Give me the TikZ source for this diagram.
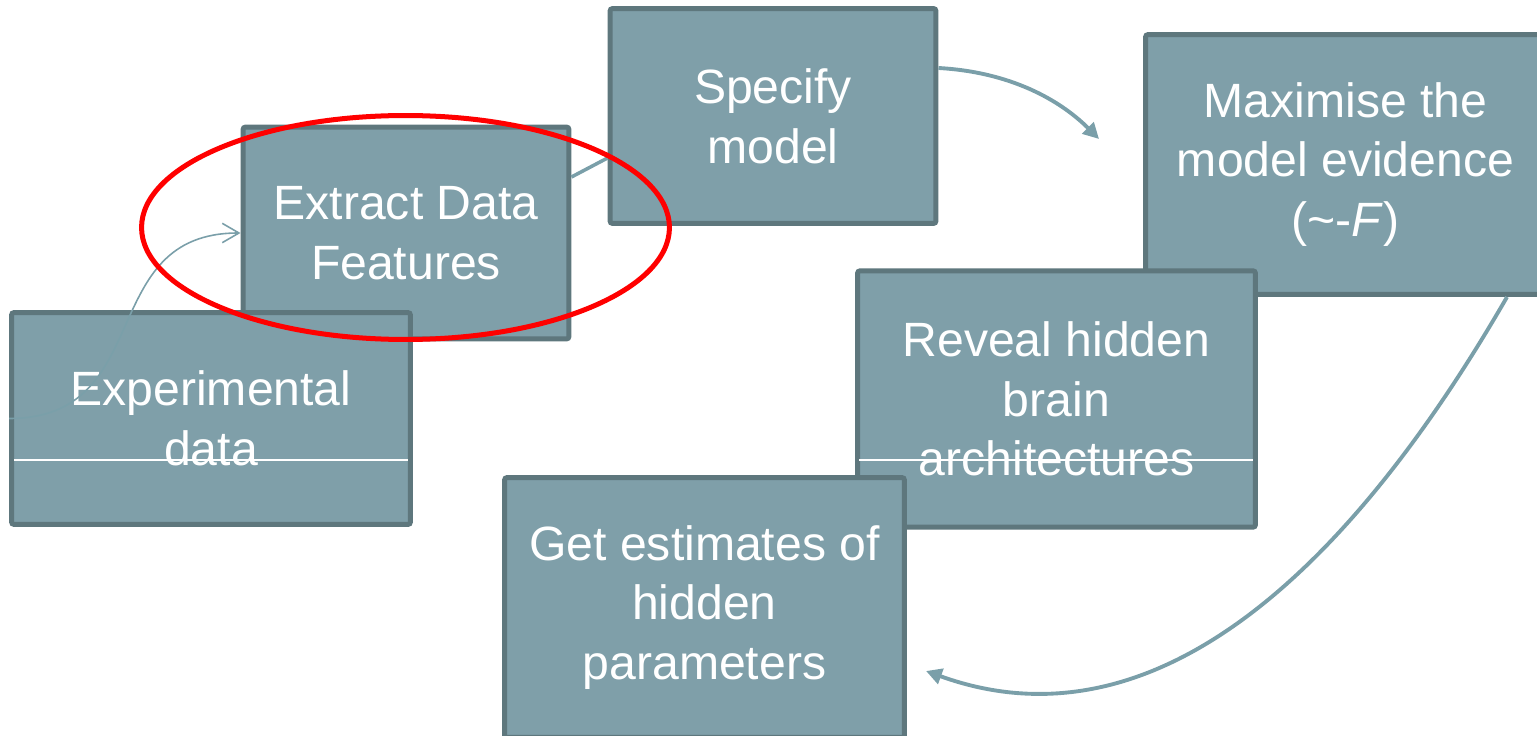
\documentclass[tikz,border=0pt]{standalone}
\usepackage{fontspec}
\setmainfont{Liberation Sans}
\usepackage{tikz}
\usetikzlibrary{arrows.meta,calc}
\definecolor{boxfill}{RGB}{127,159,169}
\definecolor{boxline}{RGB}{94,119,125}
\definecolor{flow}{RGB}{122,159,169}
\tikzstyle{stepbox}=[rectangle,fill=boxfill,draw=boxline,line width=2.85pt,rounded corners=1.5pt,text=white,align=center,inner sep=0pt,font=\fontsize{27.4}{34}\selectfont]
\tikzstyle{smallbox}=[stepbox,minimum width=6.52cm,minimum height=4.24cm]
\tikzstyle{bigbox}=[stepbox,minimum width=8cm,minimum height=5.2cm]
\tikzstyle{thinflow}=[draw=flow,line width=0.9pt,-{Straight Barb[length=9.5pt,width=11pt]}]
\tikzstyle{flowedge}=[draw=flow,line width=2.2pt,-{Triangle[length=9pt,width=9pt]}]
\tikzstyle{linkedge}=[draw=flow,line width=2pt]
\tikzstyle{glitch}=[draw=white,line width=0.6pt]
\tikzstyle{hilite}=[draw=red,line width=2.85pt]

\begin{document}
\begin{tikzpicture}[x=0.02cm, y=-0.02cm]

    \useasboundingbox (0,0) rectangle (1537,736);

    \node[smallbox] (extract) at (406,233) {Extract Data\\Features};
    \node[smallbox, minimum width=7.98cm] (exp) at (211,418.5) {Experimental\\data};
    \node[smallbox, minimum height=4.3cm] (spec) at (773,116) {Specify\\model};
    \node[bigbox] (max) at (1345.5,164.5) {Maximise the\\model evidence\\(\textasciitilde-\textit{F})};
    \node[bigbox, minimum width=7.96cm, minimum height=5.13cm] (reveal) at (1056.5,399) {Reveal hidden\\brain\\architectures};
    \node[bigbox] (get) at (704.5,607.5) {Get estimates of\\hidden\\parameters};

    \coordinate (maxin) at (1099,139);
    \coordinate (getin) at (926,671);

    \draw[thinflow] (exp.west) .. controls +(148,0) and +(-146,0) .. (extract.west);
    \draw[linkedge] ($(extract.east)+(0,-56)$) -- ($(spec.west)+(0,42)$);
    \draw[flowedge] ($(spec.east)+(0,-48)$) .. controls +(72,4) and +(-39,-39) .. (maxin);
    \draw[flowedge] ($(max.south)+(161.5,0)$) .. controls +(-150,260) and +(235,85) .. (getin);

    \draw[glitch] ($(exp.west)+(5,41.5)$) -- ($(exp.east)+(-5,41.5)$);
    \draw[glitch] ($(reveal.west)+(4,61)$) -- ($(reveal.east)+(-5,61)$);

    \draw[hilite] (405.5,227.5) ellipse [x radius=5.28cm, y radius=2.24cm];

\end{tikzpicture}
\end{document}
